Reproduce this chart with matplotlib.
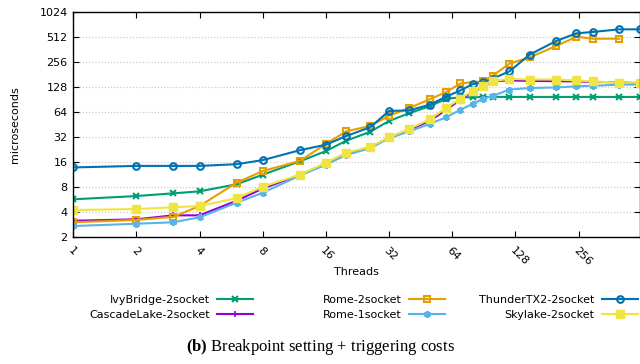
import matplotlib
matplotlib.use("Agg")
import matplotlib.pyplot as plt
from matplotlib.ticker import FixedLocator, NullLocator

plt.rcParams['font.family'] = ['DejaVu Sans']
plt.rcParams['mathtext.fontset'] = 'custom'
plt.rcParams['mathtext.rm'] = 'Liberation Serif'
plt.rcParams['mathtext.bf'] = 'Liberation Serif:bold'

# ---- data ----
threads = [1, 2, 3, 4, 6, 8, 12, 16, 20, 26, 32, 40, 50, 60, 70, 80, 90, 100,
           120, 150, 200, 250, 300, 400, 500]
rome2_threads = [1, 2, 3, 4, 6, 8, 12, 16, 20, 26, 32, 40, 50, 60, 70, 90, 100,
                 120, 150, 200, 250, 300, 400]

ivy = [5.72, 6.26, 6.75, 7.13, 8.66, 11.3, 16.3, 21.7, 28.9, 37.0, 49.9, 62.0,
       75.0, 92.0, 96.0, 96.0, 97.0, 97.0, 97.0, 97.0, 97.0, 97.0, 97.0, 97.0, 97.0]
cascade = [3.16, 3.29, 3.67, 3.67, 5.5, 7.7, 11.2, 15.3, 20.2, 24.0, 31.5, 39.0,
           50.0, 68.0, 90.0, 112.0, 128.0, 150.0, 153.0, 151.0, 150.0, 149.0, 147.0,
           145.0, 142.0]
rome2 = [3.03, 3.23, 3.53, 4.75, 9.05, 12.5, 16.5, 26.4, 37.5, 43.4, 57.7, 71.4,
         91.0, 111.0, 141.0, 150.0, 175.0, 244.0, 290.0, 396.0, 512.0, 485.0, 485.0]
rome1 = [2.73, 2.91, 3.03, 3.48, 5.2, 6.86, 11.0, 14.9, 19.5, 23.5, 31.0, 37.5,
         45.9, 55.5, 68.0, 80.0, 92.0, 100.0, 119.0, 124.0, 126.0, 130.0, 132.0,
         136.0, 137.0]
thunder = [13.8, 14.4, 14.4, 14.4, 15.1, 16.9, 22.2, 25.9, 32.9, 41.9, 65.7, 67.0,
           78.3, 98.0, 116.0, 138.0, 145.0, 161.0, 197.0, 313.0, 455.0, 563.0,
           585.0, 629.0, 629.0]
skylake = [4.25, 4.37, 4.59, 4.75, 5.9, 8.1, 11.3, 15.7, 20.7, 24.5, 31.8, 40.2,
           52.2, 72.0, 92.6, 115.0, 131.0, 150.0, 160.0, 157.0, 157.0, 153.0, 149.0,
           144.0, 144.0]

xticks = [1, 2, 4, 8, 16, 32, 64, 128, 256]
yticks = [2, 4, 8, 16, 32, 64, 128, 256, 512, 1024]

# ---- figure ----
fig = plt.figure(figsize=(6.4, 3.64), dpi=100)
L, R, T, B = 73.3, 639.5, 11.7, 237.3
ax = fig.add_axes([L / 640, 1 - B / 364, (R - L) / 640, (B - T) / 364])

lw = 1.5
ax.plot(threads, ivy, color='#009e73', marker='x', lw=lw, ms=4.5, mew=1.5,
        label='IvyBridge-2socket')
ax.plot(threads, cascade, color='#9400d3', marker='+', lw=lw, ms=4.5, mew=1.2,
        label='CascadeLake-2socket')
ax.plot(rome2_threads, rome2, color='#e69f00', marker='s', mfc='none', lw=lw,
        ms=4.5, mew=1.5, label='Rome-2socket')
ax.plot(threads, rome1, color='#56b4e9', marker=(6, 2, 0), lw=lw, ms=5, mew=1.5,
        label='Rome-1socket')
ax.plot(threads, thunder, color='#0072b2', marker='o', mfc='none', lw=lw, ms=4.8,
        mew=1.5, label='ThunderTX2-2socket')
ax.plot(threads, skylake, color='#f0e442', marker='s', lw=lw, ms=5.5,
        label='Skylake-2socket')

ax.set_xscale('log', base=2)
ax.set_yscale('log', base=2)
ax.set_xlim(1, 500)
ax.set_ylim(2, 1024)

ax.xaxis.set_major_locator(FixedLocator(xticks))
ax.xaxis.set_minor_locator(NullLocator())
ax.yaxis.set_major_locator(FixedLocator(yticks))
ax.yaxis.set_minor_locator(NullLocator())
ax.set_xticklabels([str(v) for v in xticks], rotation=-45, ha='left', va='top',
                   rotation_mode='anchor', fontsize=8)
ax.set_yticklabels([str(v) for v in yticks], fontsize=8)
ax.tick_params(axis='both', direction='in', length=4, width=0.8,
               top=True, right=True, color='black')
ax.tick_params(axis='x', pad=6)
ax.tick_params(axis='y', pad=4)

for s in ax.spines.values():
    s.set_linewidth(1.0)

ax.grid(axis='y', which='major', color='#cccccc', linestyle=(0, (1, 1.5)), lw=0.9)
ax.set_axisbelow(True)

ax.set_xlabel('Threads', fontsize=8)
ax.xaxis.set_label_coords(0.5, (B - 272) / (B - T))
ax.set_ylabel('microseconds', fontsize=8)
ax.yaxis.set_label_coords((15 - L) / (R - L), 0.5)
ax.yaxis.label.set_va('center')
ax.xaxis.label.set_va('center')

handles, labels = ax.get_legend_handles_labels()
col_right = [253, 445, 638]
for i in range(3):
    leg = fig.legend(handles[2 * i:2 * i + 2], labels[2 * i:2 * i + 2],
                     loc='upper right', bbox_to_anchor=(col_right[i] / 640, 1 - 295 / 364),
                     frameon=False, fontsize=8, markerfirst=False, handlelength=3.2,
                     handletextpad=0.7, borderpad=0, borderaxespad=0,
                     labelspacing=0.45)

fig.text(0.5, 1 - 347 / 364, r'$\mathbf{(b)}$ Breakpoint setting + triggering costs',
         ha='center', va='center', fontsize=12, family='Liberation Serif')

fig.savefig('out.png', dpi=100)
